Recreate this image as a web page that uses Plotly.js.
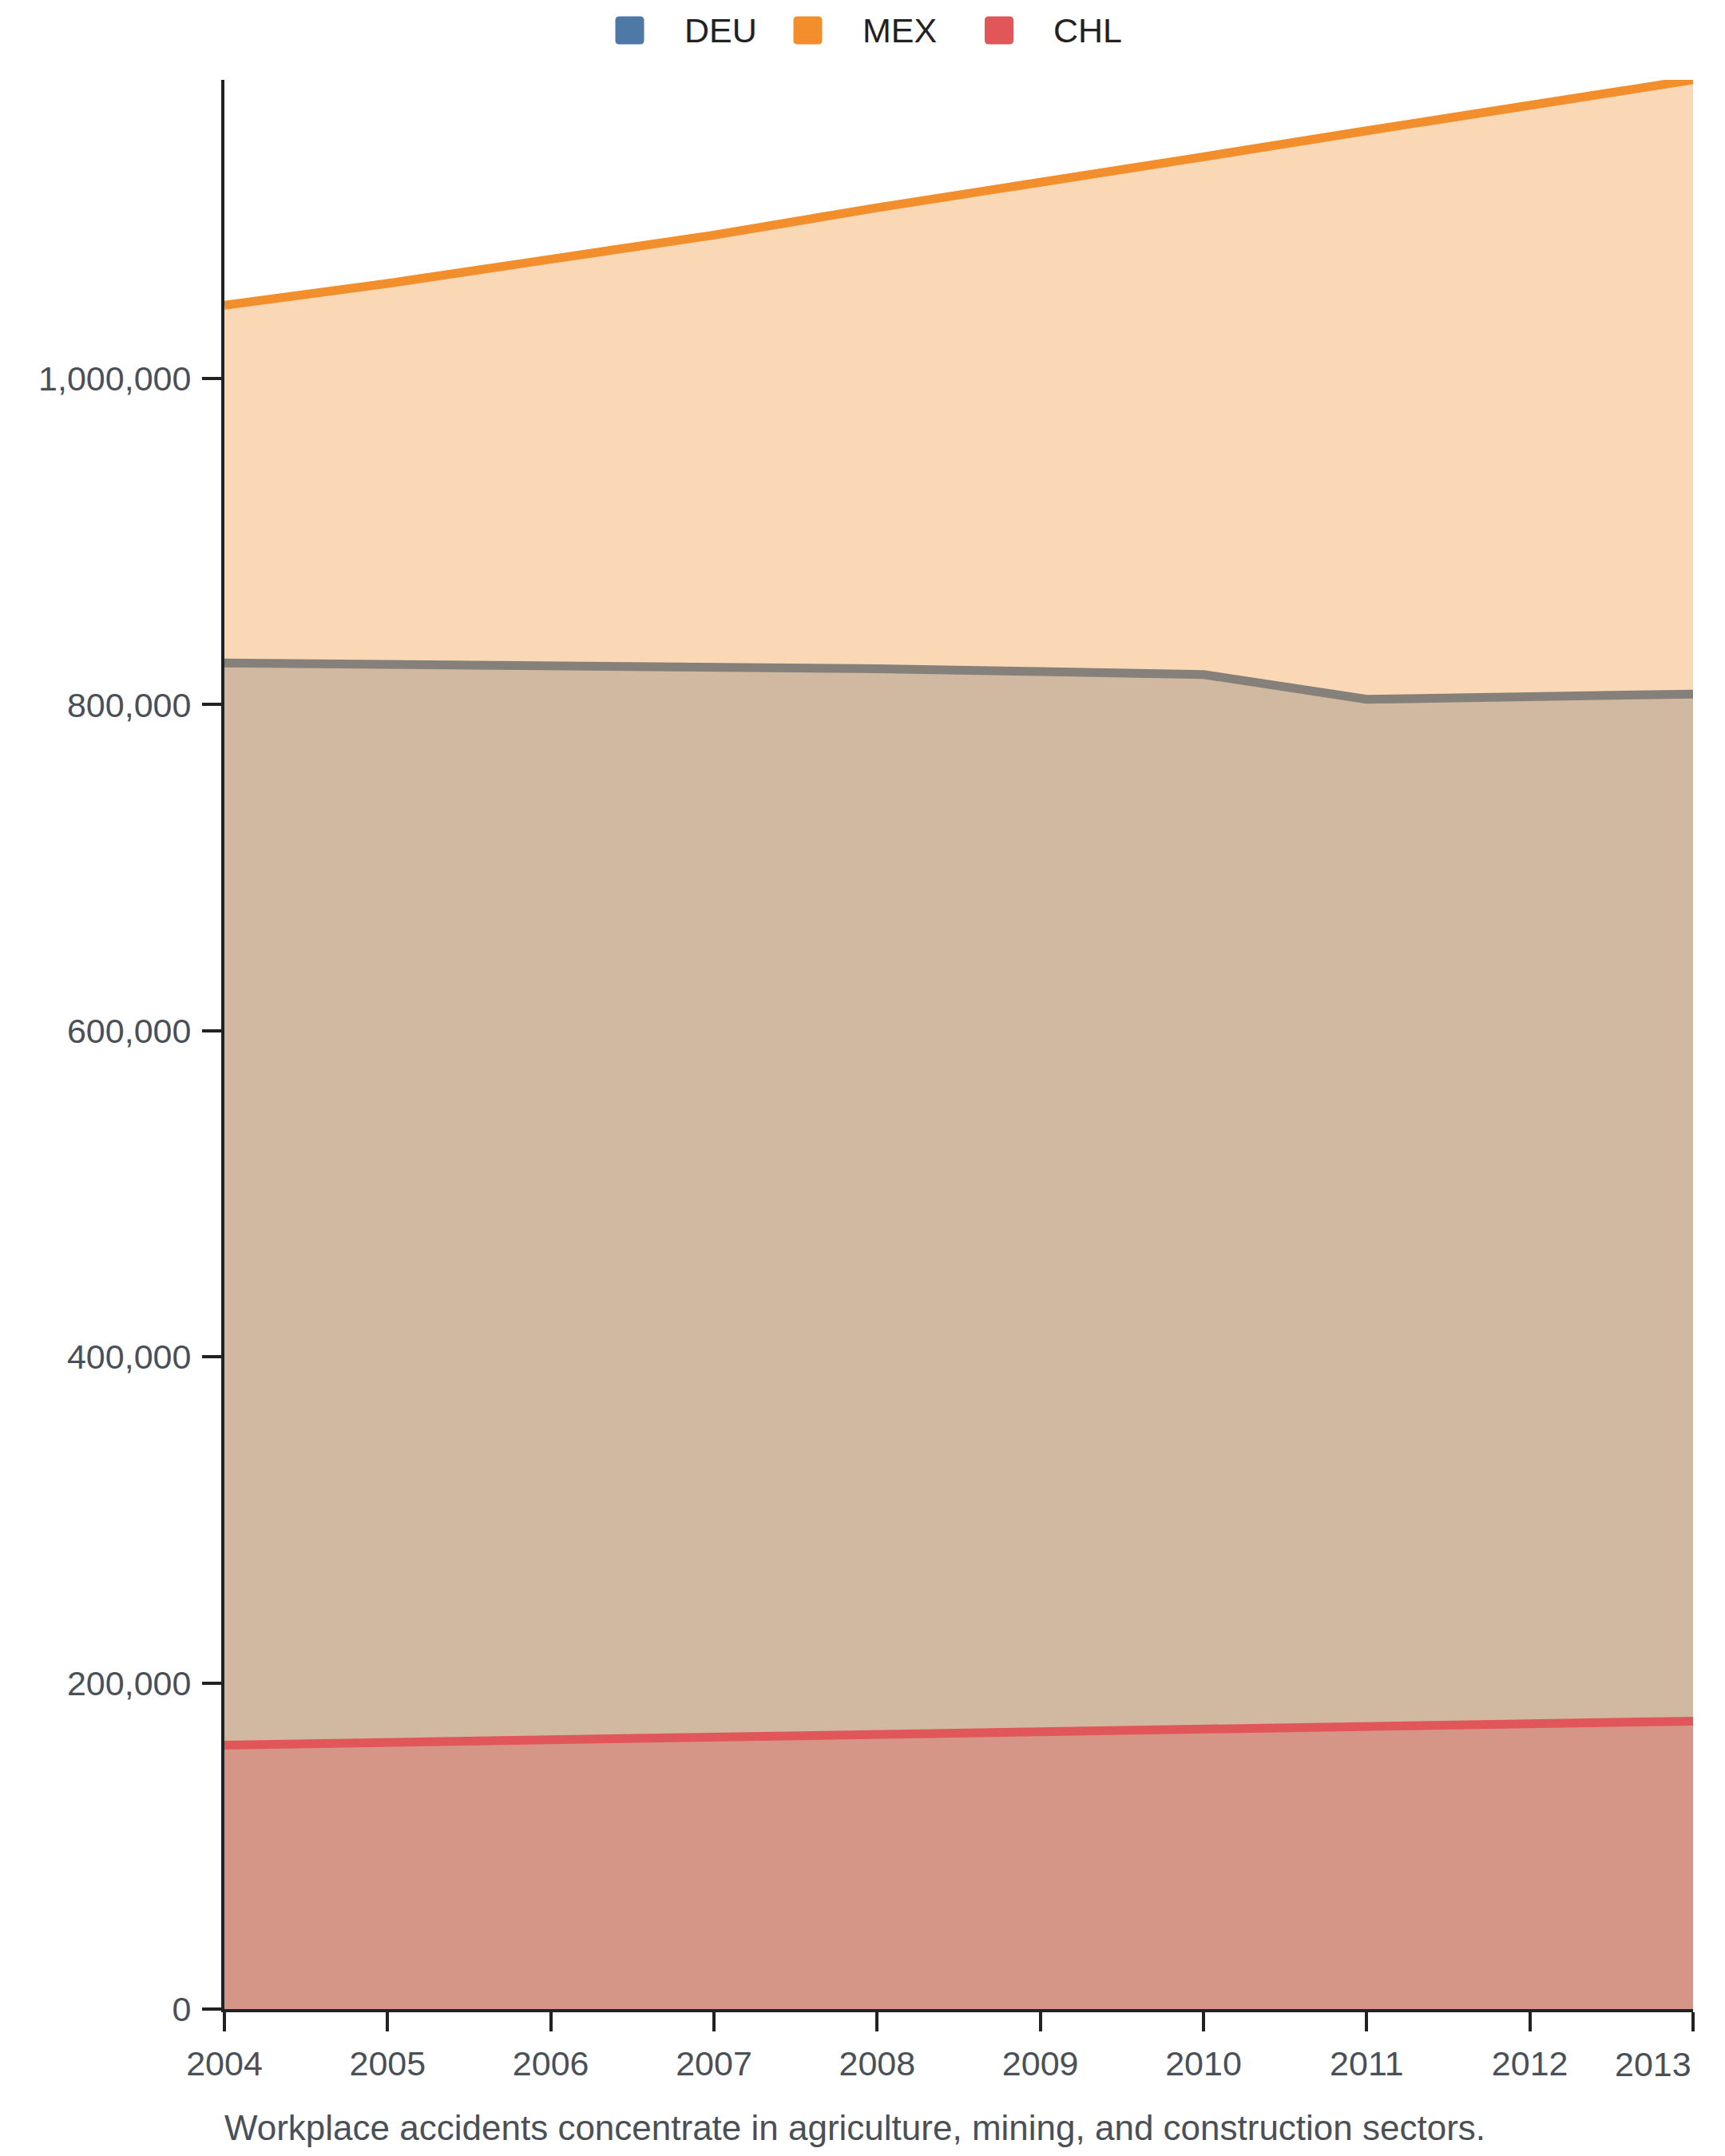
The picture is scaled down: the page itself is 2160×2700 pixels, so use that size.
<!DOCTYPE html>
<html>
<head>
<meta charset="utf-8">
<script src="https://cdn.plot.ly/plotly-3.0.1.min.js"></script>
<style>
  html, body { margin: 0; padding: 0; background: #fff; }
  #chart { width: 2160px; height: 2700px; }
</style>
</head>
<body>
<div id="chart"></div>
<script>
// values (workplace accidents)
const years = [2004, 2005, 2006, 2007, 2008, 2009, 2010, 2011, 2012, 2013];
const chl = [161900, 163500, 165100, 166700, 168300, 170000, 171600, 173200, 174900, 176600];
const deu = [663700, 661500, 659100, 656500, 653700, 650300, 646900, 630100, 630100, 629900];
const mex = [219400, 233300, 249000, 264800, 282800, 299700, 317500, 348700, 363000, 376700];
const yTicks = [0, 200000, 400000, 600000, 800000, 1000000];
const legendNames = ['DEU', 'MEX', 'CHL'];
const caption = 'Workplace accidents concentrate in agriculture, mining, and construction sectors.';

const colors = { DEU: '#4E79A7', MEX: '#F28E2B', CHL: '#E15759' };
const fills = {
    DEU: 'rgba(78,121,167,0.36)',
    MEX: 'rgba(242,142,43,0.35)',
    CHL: 'rgba(225,87,89,0.35)',
};
const FONT = 'Liberation Sans, Arial, Helvetica, sans-serif';

// stacked tops: CHL at the bottom, DEU on it, MEX on top
const chlTop = chl.slice();
const deuTop = chl.map((v, i) => v + deu[i]);
const mexTop = deuTop.map((v, i) => v + mex[i]);
const yMax = Math.max(...mexTop);

// plot area in pixels
const W = 2160, H = 2700;
const L = 281, R = 2120, T = 100, B = 2516;
const px = x => (x - L) / (R - L);
const py = y => (B - y) / (B - T);

// each area is filled down to zero, so the layers blend like the original
function area(name, y) {
    return {
        x: years,
        y: y,
        type: 'scatter',
        mode: 'lines',
        fill: 'tozeroy',
        fillcolor: fills[name],
        line: { color: colors[name], width: 11 },
        name: name,
        showlegend: false,
        hoverinfo: 'skip',
    };
}
const data = [area('DEU', deuTop), area('MEX', mexTop), area('CHL', chlTop)];

// rounded legend swatches
function roundRect(x0, x1, y0, y1, r) {
    const p = (x, y) => px(x) + ',' + py(y);
    return 'M' + p(x0 + r, y0) + ' L' + p(x1 - r, y0) + ' Q' + p(x1, y0) + ' ' + p(x1, y0 + r) +
        ' L' + p(x1, y1 - r) + ' Q' + p(x1, y1) + ' ' + p(x1 - r, y1) +
        ' L' + p(x0 + r, y1) + ' Q' + p(x0, y1) + ' ' + p(x0, y1 - r) +
        ' L' + p(x0, y0 + r) + ' Q' + p(x0, y0) + ' ' + p(x0 + r, y0) + ' Z';
}
const swatchX = [770.5, 993.5, 1233];
const labelX = [857.5, 1081, 1320];
const shapes = legendNames.map((n, i) => ({
    type: 'path',
    xref: 'paper', yref: 'paper',
    path: roundRect(swatchX[i], swatchX[i] + 36, 20.5, 55.5, 5),
    fillcolor: colors[n],
    line: { width: 0 },
}));

const annotations = legendNames.map((n, i) => ({
    text: n,
    xref: 'paper', yref: 'paper',
    x: px(labelX[i] - 3), y: py(38),
    xanchor: 'left', yanchor: 'middle',
    showarrow: false,
    font: { family: FONT, size: 43, color: '#222222' },
}));
// last year label sits flush with the right edge
annotations.push({
    text: String(years[years.length - 1]),
    xref: 'x', yref: 'paper',
    x: years[years.length - 1], y: py(2585),
    xanchor: 'right', yanchor: 'middle',
    showarrow: false,
    font: { family: FONT, size: 43, color: '#4a5058' },
});
annotations.push({
    text: caption,
    xref: 'paper', yref: 'paper',
    x: px(279), y: py(2664),
    xanchor: 'left', yanchor: 'middle',
    showarrow: false,
    font: { family: FONT, size: 44, color: '#4a5058' },
});

const axisCommon = {
    showgrid: false,
    zeroline: false,
    showline: true,
    linecolor: '#222222',
    linewidth: 4,
    ticks: 'outside',
    ticklen: 24,
    tickwidth: 4,
    tickcolor: '#222222',
    tickfont: { family: FONT, size: 43, color: '#4a5058' },
    fixedrange: true,
};

const layout = {
    width: W,
    height: H,
    margin: { l: L, r: W - R, t: T, b: H - B },
    paper_bgcolor: '#ffffff',
    plot_bgcolor: '#ffffff',
    showlegend: false,
    xaxis: Object.assign({}, axisCommon, {
        range: [years[0], years[years.length - 1]],
        tickmode: 'array',
        tickvals: years,
        ticktext: years.map((y, i) => i === years.length - 1 ? '' : String(y)),
        ticklabelstandoff: 3,
    }),
    yaxis: Object.assign({}, axisCommon, {
        range: [0, yMax],
        tickmode: 'array',
        tickvals: yTicks,
        tickformat: ',',
        ticklabelstandoff: 5,
    }),
    shapes: shapes,
    annotations: annotations,
};

Plotly.newPlot('chart', data, layout, { staticPlot: true, displayModeBar: false });
</script>
</body>
</html>
